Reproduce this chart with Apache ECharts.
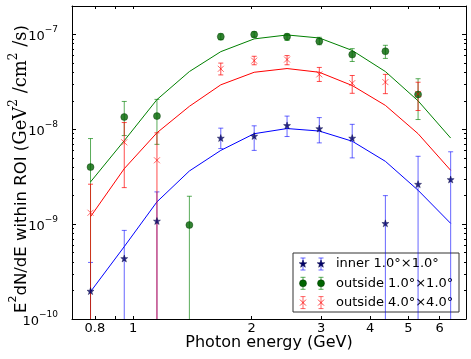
<!DOCTYPE html>
<html>
<head>
<meta charset="utf-8">
<script src="https://cdn.jsdelivr.net/npm/echarts@6/dist/echarts.min.js"></script>
<style>
  html, body { margin: 0; padding: 0; background: #fff; }
  #chart { width: 471px; height: 359px; }
</style>
</head>
<body>
<div id="chart"></div>
<script>
// photon energy bins (GeV)
var energy = [0.78, 0.95, 1.15, 1.39, 1.67, 2.03, 2.46, 2.97, 3.60, 4.37, 5.29, 6.40];

// inner 1x1 deg
var innerFlux  = [1.97e-10, 4.35e-10, 1.08e-9, null, 8.1e-9, 8.5e-9, 1.1e-8, 1.02e-8, 8.1e-9, 1.02e-9, 2.64e-9, 2.96e-9];
var innerUp    = [3.95e-10, 8.6e-10, 2.19e-9, null, 1.03e-8, 1.09e-8, 1.38e-8, 1.33e-8, 1.13e-8, 2.0e-9, 5.2e-9, 5.8e-9];
var innerLow   = [0, 0, 0, null, 6.27e-9, 6.0e-9, 8.4e-9, 7.2e-9, 5.0e-9, 0, 0, 0];
var innerModel = [1.94e-10, 5.8e-10, 1.72e-9, 3.64e-9, 6.0e-9, 9.0e-9, 1.02e-8, 9.6e-9, 7.5e-9, 4.6e-9, 2.28e-9, 1.02e-9];

// outside 1x1 deg
var out1Flux  = [4.0e-9, 1.35e-8, 1.38e-8, 9.8e-10, 9.5e-8, 1.0e-7, 9.5e-8, 8.5e-8, 6.15e-8, 6.67e-8, 2.33e-8, null];
var out1Up    = [8.0e-9, 1.97e-8, 2.07e-8, 1.97e-9, 1.02e-7, 1.07e-7, 1.02e-7, 9.35e-8, 7.1e-8, 7.7e-8, 3.42e-8, null];
var out1Low   = [0, 8.6e-9, 6.95e-9, 0, 8.8e-8, 9.4e-8, 8.65e-8, 7.8e-8, 5.2e-8, 5.6e-8, 1.27e-8, null];
var out1Model = [2.79e-9, 7.6e-9, 2.06e-8, 4.07e-8, 6.6e-8, 9.0e-8, 9.9e-8, 9.2e-8, 6.8e-8, 4.07e-8, 2.0e-8, 8.1e-9];

// outside 4x4 deg
var out4Flux  = [1.32e-9, 7.3e-9, 4.72e-9, null, 4.35e-8, 5.3e-8, 5.45e-8, 3.8e-8, 3.07e-8, 3.15e-8, 2.37e-8, null];
var out4Up    = [2.64e-9, 1.18e-8, 9.2e-9, null, 5.0e-8, 5.9e-8, 6.0e-8, 4.5e-8, 3.7e-8, 3.8e-8, 3.14e-8, null];
var out4Low   = [0, 2.43e-9, 0, null, 3.75e-8, 4.8e-8, 4.8e-8, 3.2e-8, 2.4e-8, 2.38e-8, 1.58e-8, null];
var out4Model = [1.2e-9, 3.85e-9, 9.2e-9, 1.75e-8, 2.95e-8, 4.0e-8, 4.38e-8, 4.0e-8, 2.9e-8, 1.79e-8, 9.0e-9, 3.7e-9];

// ticks
var xTicks = [0.8, 0.9, 1, 2, 3, 4, 5, 6];
var xTickLabels = [0.8, 1, 2, 3, 4, 5, 6];
var yTicks = [1e-10, 1e-9, 1e-8, 1e-7];
var yMinorTicks = [2e-10, 3e-10, 4e-10, 5e-10, 6e-10, 7e-10, 8e-10, 9e-10,
                   2e-9, 3e-9, 4e-9, 5e-9, 6e-9, 7e-9, 8e-9, 9e-9,
                   2e-8, 3e-8, 4e-8, 5e-8, 6e-8, 7e-8, 8e-8, 9e-8, 2e-7];

var names = ['inner 1.0\u00b0\u00d71.0\u00b0', 'outside 1.0\u00b0\u00d71.0\u00b0', 'outside 4.0\u00b0\u00d74.0\u00b0'];

var FONT = 'DejaVu Sans';
var STAR = 'path://M0,-10L2.35,-3.24L9.51,-3.09L3.8,1.24L5.88,8.09L0,4L-5.88,8.09L-3.8,1.24L-9.51,-3.09L-2.35,-3.24Z';
var CROSS = 'path://M-5,-5L5,5M-5,5L5,-5';

function pts(vals) {
    var out = [];
    for (var i = 0; i < energy.length; i++) {
        if (vals[i] != null) out.push([energy[i], vals[i]]);
    }
    return out;
}

function bars(up, low) {
    var out = [];
    for (var i = 0; i < energy.length; i++) {
        if (up[i] == null) continue;
        // lower end <= 0 means the bar runs off the bottom of the log axis
        out.push([energy[i], low[i] > 0 ? low[i] : 1e-12, up[i]]);
    }
    return out;
}

function errorBar(color) {
    return function (params, api) {
        var top = api.coord([api.value(0), api.value(2)]);
        var bot = api.coord([api.value(0), api.value(1)]);
        var x = top[0], c = 2.5;
        var st = { stroke: color, lineWidth: 1 };
        return {
            type: 'group',
            children: [
                { type: 'line', shape: { x1: x, y1: top[1], x2: x, y2: bot[1] }, style: st },
                { type: 'line', shape: { x1: x - c, y1: top[1], x2: x + c, y2: top[1] }, style: st },
                { type: 'line', shape: { x1: x - c, y1: bot[1], x2: x + c, y2: bot[1] }, style: st }
            ]
        };
    };
}

function supExp(v) {
    var e = Math.round(Math.log10(v));
    return '{b|10}{s|' + (e < 0 ? '\u2212' + (-e) : e) + '}';
}

function xAx(pos) {
    return {
        type: 'log', logBase: 10, min: 0.7, max: 7, position: pos, gridIndex: 0,
        axisLine: { show: true, lineStyle: { color: '#000', width: 1 } },
        axisTick: { show: true, inside: true, length: 3, customValues: xTicks, lineStyle: { color: '#000' } },
        axisLabel: {
            show: pos === 'bottom', customValues: xTickLabels, margin: 3,
            fontFamily: FONT, fontSize: 13, color: '#000',
            formatter: function (v) { return String(Math.round(v * 10) / 10); }
        },
        splitLine: { show: false }, minorTick: { show: false }
    };
}
function yAx(pos, minor) {
    return {
        type: 'log', logBase: 10, min: 1e-10, max: 2e-7, position: pos, gridIndex: 0,
        axisLine: { show: !minor, lineStyle: { color: '#000', width: 1 } },
        axisTick: { show: true, inside: true, length: minor ? 2 : 4,
                    customValues: minor ? yMinorTicks : yTicks, lineStyle: { color: '#000' } },
        axisLabel: {
            show: pos === 'left' && !minor, customValues: yTicks, margin: 14,
            color: '#000', formatter: supExp,
            rich: {
                b: { fontFamily: FONT, fontSize: 13, color: '#000', verticalAlign: 'bottom', lineHeight: 18 },
                s: { fontFamily: FONT, fontSize: 9, color: '#000', verticalAlign: 'top', lineHeight: 10 }
            }
        },
        splitLine: { show: false }, minorTick: { show: false }
    };
}

// legend markers (decoration only)
function starPoints(cx, cy, r) {
    var p = [];
    for (var k = 0; k < 10; k++) {
        var a = -Math.PI / 2 + k * Math.PI / 5;
        var rr = k % 2 === 0 ? r : r * 0.4;
        p.push([cx + rr * Math.cos(a), cy + rr * Math.sin(a)]);
    }
    return p;
}

var legX = 293, legY = 253;
function legendRow(i, color, markKind, markColor) {
    var cy = legY + 11 + i * 19.3;
    var kids = [];
    [303, 321].forEach(function (cx) {
        kids.push({ type: 'line', shape: { x1: cx, y1: cy - 6, x2: cx, y2: cy + 6 }, style: { stroke: color, lineWidth: 1 } });
        kids.push({ type: 'line', shape: { x1: cx - 2.5, y1: cy - 6, x2: cx + 2.5, y2: cy - 6 }, style: { stroke: color, lineWidth: 1 } });
        kids.push({ type: 'line', shape: { x1: cx - 2.5, y1: cy + 6, x2: cx + 2.5, y2: cy + 6 }, style: { stroke: color, lineWidth: 1 } });
        if (markKind === 'star') {
            kids.push({ type: 'polygon', shape: { points: starPoints(cx, cy, 4) }, style: { fill: markColor, stroke: '#000044', lineWidth: 0.5 } });
        } else if (markKind === 'circle') {
            kids.push({ type: 'circle', shape: { cx: cx, cy: cy, r: 3.5 }, style: { fill: markColor, stroke: '#003300', lineWidth: 0.5 } });
        } else {
            kids.push({ type: 'line', shape: { x1: cx - 3, y1: cy - 3, x2: cx + 3, y2: cy + 3 }, style: { stroke: markColor, lineWidth: 1 } });
            kids.push({ type: 'line', shape: { x1: cx - 3, y1: cy + 3, x2: cx + 3, y2: cy - 3 }, style: { stroke: markColor, lineWidth: 1 } });
        }
    });
    kids.push({ type: 'text', x: 336, y: cy, style: { text: names[i], font: '13px "DejaVu Sans"', fill: '#000', align: 'left', verticalAlign: 'middle' } });
    return kids;
}

var legendKids = [{ type: 'rect', shape: { x: legX, y: legY, width: 166, height: 59 }, style: { fill: '#fff', stroke: '#333', lineWidth: 1 } }]
    .concat(legendRow(0, 'rgba(0,0,255,0.6)', 'star', '#000066'))
    .concat(legendRow(1, 'rgba(0,128,0,0.65)', 'circle', '#006400'))
    .concat(legendRow(2, 'rgba(255,0,0,0.6)', 'cross', 'rgba(255,0,0,0.75)'));

var chart = echarts.init(document.getElementById('chart'), null, { renderer: 'canvas' });

var option = {
    animation: false,
    backgroundColor: '#fff',
    grid: { left: 72, right: 5, top: 6, bottom: 40, containLabel: false, outerBoundsMode: 'none' },
    xAxis: [xAx('bottom'), xAx('top')],
    yAxis: [yAx('left', false), yAx('left', true), yAx('right', false), yAx('right', true)],
    graphic: [
        { type: 'text', x: 269, y: 343, style: { text: 'Photon energy (GeV)', font: '16px "DejaVu Sans"', fill: '#000', align: 'center', verticalAlign: 'middle' } },
        {
            type: 'text', x: 19, y: 169, rotation: Math.PI / 2,
            style: {
                text: '{n|E}{s|2}{n|dN/dE within ROI (}{r|GeV}{rs|2}{r| /cm}{rs|2}{r| /s}{n|)}',
                align: 'center', verticalAlign: 'middle', fill: '#000',
                rich: {
                    n: { fontFamily: FONT, fontSize: 16.5, verticalAlign: 'bottom', lineHeight: 22 },
                    s: { fontFamily: FONT, fontSize: 11, verticalAlign: 'top', lineHeight: 12 },
                    r: { fontFamily: 'DejaVu Serif', fontSize: 18, verticalAlign: 'bottom', lineHeight: 22 },
                    rs: { fontFamily: 'DejaVu Serif', fontSize: 12, verticalAlign: 'top', lineHeight: 12 }
                }
            }
        },
        { type: 'group', z: 100, children: legendKids }
    ],
    series: [
        { name: 'inner model', type: 'line', data: pts(innerModel), showSymbol: false, symbol: 'none', lineStyle: { color: '#0000ff', width: 1 }, z: 2 },
        { name: 'out1 model', type: 'line', data: pts(out1Model), showSymbol: false, symbol: 'none', lineStyle: { color: '#008000', width: 1 }, z: 2 },
        { name: 'out4 model', type: 'line', data: pts(out4Model), showSymbol: false, symbol: 'none', lineStyle: { color: '#ff0000', width: 1 }, z: 2 },

        { type: 'custom', data: bars(innerUp, innerLow), encode: { x: 0, y: [1, 2] }, renderItem: errorBar('rgba(0,0,255,0.6)'), clip: true, z: 3 },
        { type: 'custom', data: bars(out1Up, out1Low), encode: { x: 0, y: [1, 2] }, renderItem: errorBar('rgba(0,128,0,0.65)'), clip: true, z: 3 },
        { type: 'custom', data: bars(out4Up, out4Low), encode: { x: 0, y: [1, 2] }, renderItem: errorBar('rgba(255,0,0,0.7)'), clip: true, z: 3 },

        { name: names[0], type: 'scatter', data: pts(innerFlux), symbol: STAR, symbolSize: 7, itemStyle: { color: '#000066', borderColor: '#000044', borderWidth: 0.5 }, z: 4 },
        { name: names[1], type: 'scatter', data: pts(out1Flux), symbol: 'circle', symbolSize: 7, itemStyle: { color: '#006400', borderColor: '#003300', borderWidth: 0.5 }, z: 4 },
        { name: names[2], type: 'scatter', data: pts(out4Flux), symbol: CROSS, symbolSize: 6, itemStyle: { color: 'none', borderColor: 'rgba(255,0,0,0.75)', borderWidth: 1 }, z: 4 }
    ]
};

chart.setOption(option);
</script>
</body>
</html>
